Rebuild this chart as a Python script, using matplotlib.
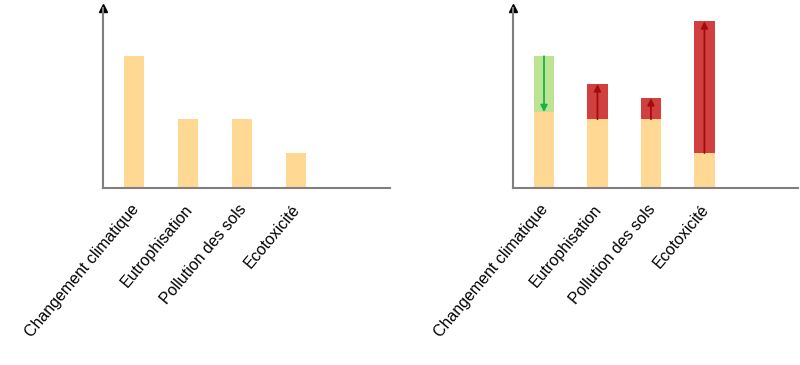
import matplotlib.pyplot as plt
import matplotlib.transforms as mtransforms
import numpy as np

plt.rcParams['font.family'] = ['Liberation Sans', 'DejaVu Sans']

# catégories et valeurs (unités arbitraires)
categories = ["Changement climatique", "Eutrophisation", "Pollution des sols", "Ecotoxicité"]
reference = [3.77, 1.97, 1.97, 1.0]
scenario = [2.17, 2.97, 2.57, 4.77]

orange = "#ffd893"
green = "#bde492"
red = "#d13f3f"
arrow_green = "#17b14e"
arrow_red = "#a00d0d"

x = np.arange(len(categories))
w = 0.38

fig = plt.figure(figsize=(8, 3.65), dpi=100)
ax1 = fig.add_axes([103/800, 177/365, 287/800, 180/365])
ax2 = fig.add_axes([513/800, 177/365, 285/800, 180/365])


def style_axes(ax):
    ax.set_xlim(-0.58, 4.75)
    ax.set_ylim(0, 5.15)
    for s in ['top', 'right']:
        ax.spines[s].set_visible(False)
    for s in ['left', 'bottom']:
        ax.spines[s].set_color('#7f7f7f')
        ax.spines[s].set_linewidth(1.5)
    ax.set_yticks([])
    ax.set_xticks(x)
    ax.set_xticklabels(categories, rotation=50, ha='right', va='top',
                       rotation_mode='anchor', fontsize=11.5)
    ax.tick_params(axis='x', length=0, pad=10)
    shift = mtransforms.ScaledTranslation(-3/72, 0, fig.dpi_scale_trans)
    for lab in ax.get_xticklabels():
        lab.set_transform(lab.get_transform() + shift)
    # flèche en haut de l'axe y
    ax.plot([0], [1], marker='^', color='black', markersize=6,
            transform=ax.transAxes, clip_on=False)


# graphique de gauche : situation de référence
style_axes(ax1)
ax1.bar(x, reference, width=w, color=orange)

# graphique de droite : variations
style_axes(ax2)
for i in range(len(categories)):
    base = min(reference[i], scenario[i])
    ax2.bar(x[i], base, width=w, color=orange)
    if scenario[i] < reference[i]:
        ax2.bar(x[i], reference[i] - scenario[i], bottom=scenario[i], width=w, color=green)
        col = arrow_green
    else:
        ax2.bar(x[i], scenario[i] - reference[i], bottom=reference[i], width=w, color=red)
        col = arrow_red
    ax2.annotate("", xy=(x[i], scenario[i]), xytext=(x[i], reference[i]),
                 arrowprops=dict(arrowstyle='-|>', color=col, lw=1.3,
                                 mutation_scale=10, shrinkA=0, shrinkB=0))

fig.savefig("out.png", dpi=100)
